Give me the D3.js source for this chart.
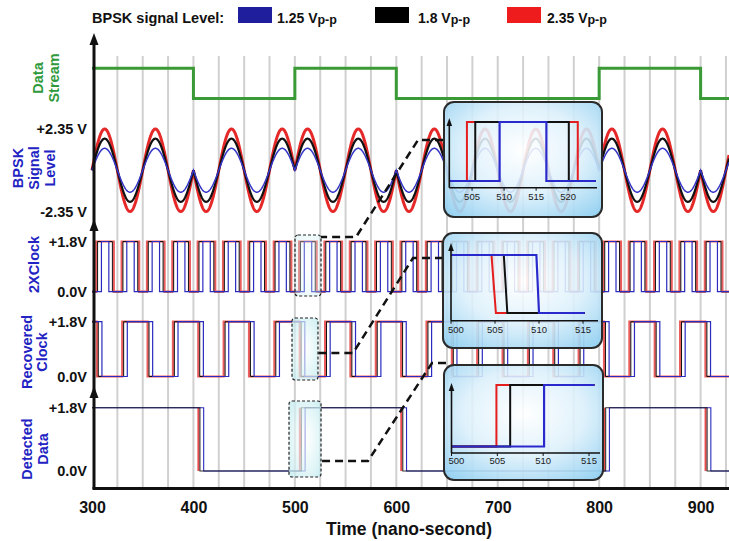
<!DOCTYPE html>
<html><head><meta charset="utf-8">
<script src="https://cdn.jsdelivr.net/npm/d3@7"></script>
<style>
html,body{margin:0;padding:0;background:#fff;}
svg{display:block;font-family:"Liberation Sans",Arial,Helvetica,sans-serif;}
</style></head><body>
<svg id="chart" width="729" height="541"></svg>
<script>
// ---------------- DATA ----------------
const seriesKeys = ["blue", "black", "red"];
const legendLabels = ["1.25 V", "1.8 V", "2.35 V"];
const bpskAmplitude = { blue: 1.25, black: 1.8, red: 2.35 };
const dataBitStart = [300, 400, 500, 600, 700, 800, 900];
const dataBits = [1, 0, 1, 0, 0, 1, 0];
const timeStart = 300, timeEnd = 928;
const carrierPeriod = 50;
const xTicks = [300, 400, 500, 600, 700, 800, 900];
const gridTimes = [325,350,375,400,425,450,475,500,525,550,575,600,625,650,675,700,725,750,775,800,825,850,875,900,925];
const bpskTickValues = [2.35, -2.35];
const bpskTickLabels = ["+2.35 V", "-2.35 V"];
const clockTickValues = [1.8, 0];
const clockTickLabels = ["+1.8V", "0.0V"];
// clock base instants
const clkBase = [300,325,350,375,400,425,450,475,500,525,550,575,600,625,650,675,700,725,750,775,800,825,850,875,900,925];
// 2X clock edges (delay after base instant)
const clk2xRise = { red: 4.2, black: 5.5, blue: 9.3 };
const clk2xFall = { red: 21.5, black: 20.1, blue: 16.6 };
// recovered clock: level after each base instant
const recLevels = [0,1,0,1,0,1,0,1,0,1,0,1,0,1,0,1,0,1,0,1,0,1,0,1,0,1];
const recDelay = { red: 4.8, black: 6.2, blue: 9.8 };
// detected data
const detBase = [400, 500, 600, 800, 900];
const detLevels = [0, 1, 0, 1, 0];
const detDelay = { red: 4.9, black: 6.4, blue: 10.1 };
// insets
const inset1Ticks = [505, 510, 515, 520];
const inset1Rise = { red: 504.2, black: 505.5, blue: 509.3 };
const inset1Fall = { red: 521.5, black: 520.1, blue: 516.6 };
const inset2Ticks = [500, 505, 510, 515];
const inset2FallTop = { red: 504.6, black: 506.0, blue: 509.7 };
const inset2FallBottom = { red: 505.1, black: 506.4, blue: 510.0 };
const inset3Ticks = [500, 505, 510, 515];
const inset3Rise = { red: 504.9, black: 506.4, blue: 510.1 };

// ---------------- STYLE / LAYOUT ----------------
const col = { blue: "#2b2bbf", black: "#111111", red: "#e41e1e" };
const swatchCol = { blue: "#1f1f9e", black: "#000000", red: "#ee1c1c" };
const labelBlue = "#2323c3", labelGreen = "#2f9a3c";
const FONT = '"Liberation Sans", Arial, Helvetica, sans-serif';

const svg = d3.select("#chart");
const defs = svg.append("defs");
const ig = defs.append("radialGradient").attr("id", "insetGrad")
  .attr("cx", "50%").attr("cy", "42%").attr("r", "75%");
ig.append("stop").attr("offset", "0%").attr("stop-color", "#ffffff").attr("stop-opacity", 0.88);
ig.append("stop").attr("offset", "50%").attr("stop-color", "#dcf0fb").attr("stop-opacity", 0.88);
ig.append("stop").attr("offset", "100%").attr("stop-color", "#8ccdf0").attr("stop-opacity", 0.95);
const bg = defs.append("radialGradient").attr("id", "boxGrad")
  .attr("cx", "50%").attr("cy", "50%").attr("r", "70%");
bg.append("stop").attr("offset", "0%").attr("stop-color", "#ffffff").attr("stop-opacity", 0.55);
bg.append("stop").attr("offset", "100%").attr("stop-color", "#bfeaee").attr("stop-opacity", 0.8);

const x = d3.scaleLinear([timeStart, timeEnd], [92, 729]);
const yData = d3.scaleLinear([0, 1], [98.5, 68.3]);
const yBpsk = d3.scaleLinear([-2.35, 2.35], [211.5, 129]);
const y2x = d3.scaleLinear([0, 1.8], [291.7, 241.5]);
const yRec = d3.scaleLinear([0, 1.8], [376.5, 321.7]);
const yDet = d3.scaleLinear([0, 1.8], [471, 407.7]);
const axisX = 94, axisY = 488;

function stepPoints(init, edges, t0, t1) {
  const pts = [[t0, init]];
  let cur = init;
  edges.filter(e => e.t < t1).sort((a, b) => a.t - b.t).forEach(e => {
    pts.push([e.t, cur]);
    pts.push([e.t2 !== undefined ? e.t2 : e.t, e.level]);
    cur = e.level;
  });
  pts.push([t1, cur]);
  return pts;
}

// grid
svg.append("g").selectAll("line").data(gridTimes).join("line")
  .attr("x1", d => x(d)).attr("x2", d => x(d)).attr("y1", 56).attr("y2", axisY - 1)
  .attr("stroke", "#d0d0d0").attr("stroke-width", 2);

// data stream
const dsEdges = dataBitStart.slice(1).map((t, i) => ({ t: t, level: dataBits[i + 1] }));
svg.append("path")
  .attr("d", d3.line().x(d => x(d[0])).y(d => yData(d[1]))(stepPoints(dataBits[0], dsEdges, timeStart, timeEnd)))
  .attr("fill", "none").attr("stroke", "#3a9a35").attr("stroke-width", 3);

// BPSK
function bitAt(t) {
  let idx = 0;
  for (let i = 0; i < dataBitStart.length; i++) if (t >= dataBitStart[i]) idx = i;
  return dataBits[idx];
}
const bpskT = d3.range(timeStart, timeEnd + 0.001, 0.25);
const bpskW = { red: 3, black: 2.2, blue: 1.5 };
["red", "black", "blue"].forEach(c => {
  const pts = bpskT.map(t => [t, bpskAmplitude[c] * Math.sin(2 * Math.PI * (t - timeStart) / carrierPeriod) * (bitAt(t) ? 1 : -1)]);
  svg.append("path").attr("d", d3.line().x(d => x(d[0])).y(d => yBpsk(d[1]))(pts))
    .attr("fill", "none").attr("stroke", c === "blue" ? "#3535c8" : col[c]).attr("stroke-width", bpskW[c])
    .attr("stroke-opacity", c === "red" ? 0.95 : 1);
});

// clocks
function drawStep(pts, ys, c, w, op) {
  svg.append("path").attr("d", d3.line().x(d => x(d[0])).y(d => ys(d[1]))(pts))
    .attr("fill", "none").attr("stroke", col[c]).attr("stroke-width", w).attr("stroke-opacity", op);
}
const clkW = { red: 2.2, black: 1, blue: 1.2 };
const clkOp = { red: 0.72, black: 1, blue: 1 };
["red", "black", "blue"].forEach(c => {
  const e = clkBase.flatMap(T => [{ t: T + clk2xRise[c], level: 1.8 }, { t: T + clk2xFall[c], level: 0 }]);
  drawStep(stepPoints(0, e, timeStart, timeEnd), y2x, c, clkW[c], clkOp[c]);
});
["red", "black", "blue"].forEach(c => {
  const e = clkBase.map((T, i) => ({ t: T + recDelay[c], level: recLevels[i] * 1.8 }));
  drawStep(stepPoints(1.8, e, timeStart, timeEnd), yRec, c, clkW[c], clkOp[c]);
});
const detW = { red: 2, black: 1.1, blue: 1.1 };
const detOp = { red: 0.8, black: 0.85, blue: 1 };
["red", "blue", "black"].forEach(c => {
  const e = detBase.map((T, i) => ({ t: T + detDelay[c], level: detLevels[i] * 1.8 }));
  const pts = stepPoints(1.8, e, timeStart, timeEnd);
  if (c === "red") {
    // red only visible on the transitions: draw each edge
    e.forEach(ed => {
      svg.append("line").attr("x1", x(ed.t)).attr("x2", x(ed.t)).attr("y1", yDet(0)).attr("y2", yDet(1.8))
        .attr("stroke", col.red).attr("stroke-width", detW.red).attr("stroke-opacity", detOp.red);
    });
  } else {
    drawStep(pts, yDet, c, detW[c], detOp[c]);
  }
});

// dashed zoom boxes
const zoomBoxes = [[295, 235, 26, 61, 0.5], [292, 318, 26, 62, 1], [289, 401, 32, 76, 1]];
svg.append("g").selectAll("rect").data(zoomBoxes).join("rect")
  .attr("x", d => d[0]).attr("y", d => d[1]).attr("width", d => d[2]).attr("height", d => d[3])
  .attr("rx", 3).attr("fill", "url(#boxGrad)").attr("fill-opacity", d => d[4])
  .attr("stroke", "#222").attr("stroke-width", 1.2).attr("stroke-dasharray", "3,2");

// connectors
const connectors = [
  [[443, 140], [418, 140], [356, 237], [321, 237]],
  [[443, 258], [413, 258], [353, 353], [318, 353]],
  [[446, 363], [432, 363], [368, 461], [321, 461]]
];
svg.append("g").selectAll("path").data(connectors).join("path")
  .attr("d", d => d3.line()(d)).attr("fill", "none").attr("stroke", "#111")
  .attr("stroke-width", 2.5).attr("stroke-dasharray", "8,5");

// axes
svg.append("line").attr("x1", axisX).attr("x2", axisX).attr("y1", axisY + 1).attr("y2", 40)
  .attr("stroke", "#111").attr("stroke-width", 3);
[33, 219, 386].forEach(tip => {
  svg.append("path").attr("d", `M${axisX},${tip} L${axisX - 4.5},${tip + 12} L${axisX + 4.5},${tip + 12} Z`).attr("fill", "#111");
});
const xAxis = svg.append("g").attr("transform", `translate(0,${axisY})`)
  .call(d3.axisBottom(x).tickValues(xTicks).tickSize(0).tickSizeOuter(0).tickPadding(13.5));
xAxis.select(".domain").attr("stroke", "#111").attr("stroke-width", 3);
xAxis.selectAll("text").attr("font-size", 16).attr("font-weight", "bold").attr("font-family", FONT).attr("fill", "#111");

function leftLabels(scale, values, labels) {
  const g = svg.append("g").attr("transform", `translate(${axisX},0)`)
    .call(d3.axisLeft(scale).tickValues(values).tickFormat((d, i) => labels[i]).tickSize(0).tickPadding(7));
  g.select(".domain").remove();
  g.selectAll("text").attr("font-size", 14.5).attr("font-weight", "bold").attr("font-family", FONT).attr("fill", "#111");
}
leftLabels(yBpsk, bpskTickValues, bpskTickLabels);
leftLabels(y2x, clockTickValues, clockTickLabels);
leftLabels(yRec, clockTickValues, clockTickLabels);
leftLabels(yDet, clockTickValues, clockTickLabels);

svg.append("text").attr("x", 409).attr("y", 535).attr("text-anchor", "middle")
  .attr("font-size", 17.5).attr("font-weight", "bold").attr("fill", "#111").text("Time (nano-second)");

// rotated panel labels
const panelLabels = [
  { lines: ["Data", "Stream"], xs: [38, 54], cy: 78, color: labelGreen },
  { lines: ["BPSK", "Signal", "Level"], xs: [18, 34, 50], cy: 168, color: labelBlue },
  { lines: ["2XClock"], xs: [34], cy: 264.5, color: labelBlue },
  { lines: ["Recovered", "Clock"], xs: [27, 42], cy: 352, color: labelBlue },
  { lines: ["Detected", "Data"], xs: [27, 43], cy: 449, color: labelBlue }
];
panelLabels.forEach(p => p.lines.forEach((t, i) => {
  svg.append("text").attr("transform", `translate(${p.xs[i]},${p.cy}) rotate(-90)`)
    .attr("text-anchor", "middle").attr("dy", "0.36em").attr("font-size", 14.5)
    .attr("font-weight", "bold").attr("fill", p.color).text(t);
}));

// insets
function drawInset(cfg) {
  const g = svg.append("g");
  g.append("rect").attr("x", cfg.box[0]).attr("y", cfg.box[1]).attr("width", cfg.box[2]).attr("height", cfg.box[3])
    .attr("rx", 10).attr("fill", "url(#insetGrad)").attr("stroke", "#2a2a2a").attr("stroke-width", 2);
  const xs = d3.scaleLinear(cfg.domain, cfg.range);
  const ys = d3.scaleLinear([0, 1], [cfg.yLow, cfg.yHigh]);
  const w = { red: 2, black: 2, blue: 2.2 };
  ["red", "black", "blue"].forEach(c => {
    g.append("path").attr("d", d3.line().x(d => xs(d[0])).y(d => ys(d[1]))(cfg.signal(c)))
      .attr("fill", "none").attr("stroke", c === "blue" ? "#2a2acc" : col[c]).attr("stroke-width", w[c]);
  });
  const ox = cfg.range[0], oy = cfg.oy;
  g.append("line").attr("x1", ox).attr("x2", cfg.range[1]).attr("y1", oy).attr("y2", oy).attr("stroke", "#111").attr("stroke-width", 1.6);
  g.append("line").attr("x1", ox).attr("x2", ox).attr("y1", oy).attr("y2", cfg.tip + 5).attr("stroke", "#111").attr("stroke-width", 1.6);
  g.append("path").attr("d", `M${ox},${cfg.tip} L${ox - 2.8},${cfg.tip + 8} L${ox + 2.8},${cfg.tip + 8} Z`).attr("fill", "#111");
  cfg.ticks.forEach(t => {
    g.append("line").attr("x1", xs(t)).attr("x2", xs(t)).attr("y1", oy).attr("y2", oy + 3).attr("stroke", "#111").attr("stroke-width", 1);
    const first = Math.abs(xs(t) - ox) < 2;
    g.append("text").attr("x", first ? ox - 3 : xs(t)).attr("y", cfg.labelY).attr("dy", "0.35em")
      .attr("text-anchor", first ? "start" : "middle").attr("font-size", 9.5).attr("fill", "#222").text(t);
  });
}
drawInset({
  box: [444, 102, 158, 115], domain: [501.45, 524.5], range: [449.3, 597], oy: 187.7,
  yHigh: 122, yLow: 181, tip: 118, labelY: 197, ticks: inset1Ticks,
  signal: c => [[501.45, 0], [inset1Rise[c], 0], [inset1Rise[c], 1], [inset1Fall[c], 1], [inset1Fall[c], 0], [524.3, 0]]
});
drawInset({
  box: [443, 233, 159, 115], domain: [500, 516.7], range: [451, 598], oy: 320.7,
  yHigh: 255, yLow: 313, tip: 243, labelY: 329.5, ticks: inset2Ticks,
  signal: c => [[500, 1], [inset2FallTop[c], 1], [inset2FallBottom[c], 0], [515.2, 0]]
});
drawInset({
  box: [444, 365, 159, 115], domain: [500, 516.2], range: [451.5, 600], oy: 453,
  yHigh: 385, yLow: 446.5, tip: 383, labelY: 460.5, ticks: inset3Ticks,
  signal: c => [[500, 0], [inset3Rise[c], 0], [inset3Rise[c], 1], [515.6, 1]]
});

// legend
svg.append("text").attr("x", 92).attr("y", 22.5).attr("font-size", 14.5).attr("font-weight", "bold")
  .attr("fill", "#111").text("BPSK signal Level:");
const legendPos = [{ sx: 238, tx: 277 }, { sx: 375, tx: 418 }, { sx: 507, tx: 547 }];
seriesKeys.forEach((k, i) => {
  svg.append("rect").attr("x", legendPos[i].sx).attr("y", 7).attr("width", 34).attr("height", 16).attr("fill", swatchCol[k]);
  const t = svg.append("text").attr("x", legendPos[i].tx).attr("y", 22.5).attr("font-size", 14)
    .attr("font-weight", "bold").attr("fill", "#111");
  t.append("tspan").text(legendLabels[i]);
  t.append("tspan").attr("font-size", 12.5).attr("dy", 1).text("p-p");
});
</script>
</body></html>
